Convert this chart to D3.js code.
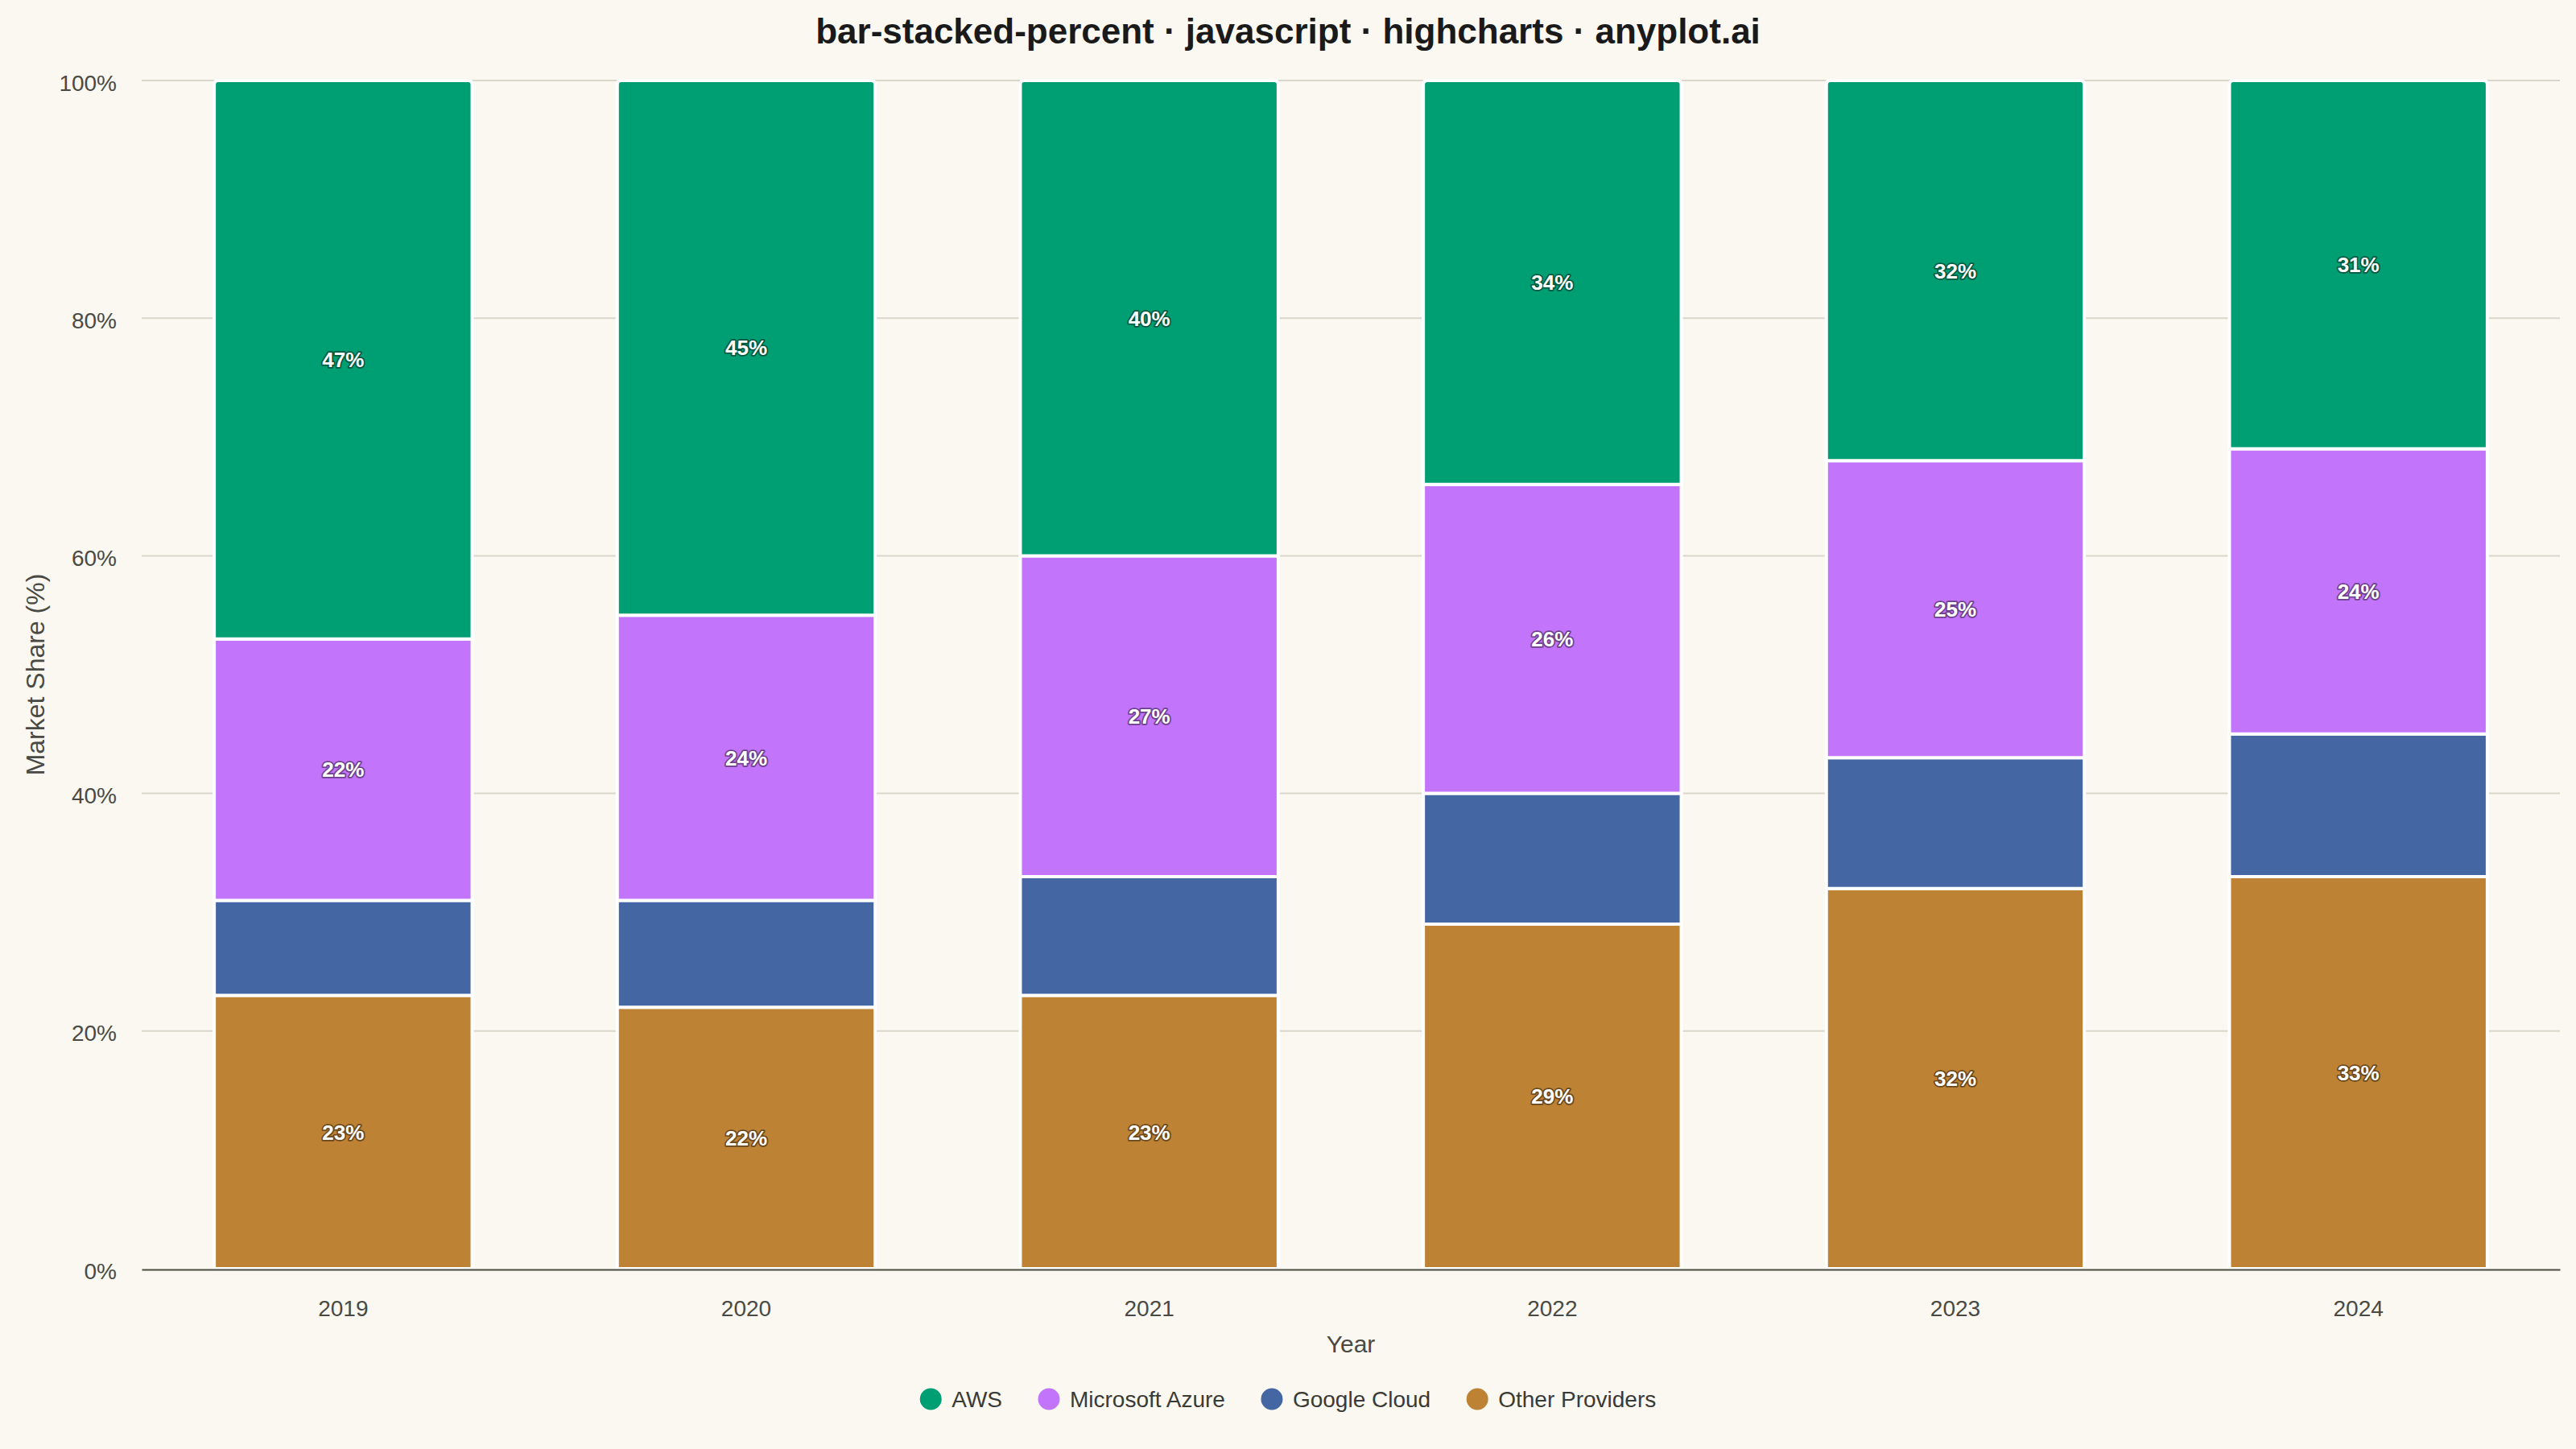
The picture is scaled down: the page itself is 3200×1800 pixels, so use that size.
<!DOCTYPE html>
<html>
<head>
<meta charset="utf-8">
<title>bar-stacked-percent</title>
<script src="https://d3js.org/d3.v7.min.js"></script>
<style>
  html, body { margin: 0; padding: 0; background: #FAF8F1; }
  svg { display: block; font-family: "Liberation Sans", Arial, sans-serif; }
</style>
</head>
<body>
<div id="container"></div>
<script>
// ---------------- data ----------------
var years = ["2019", "2020", "2021", "2022", "2023", "2024"];
var aws = [47, 45, 40, 34, 32, 31];
var azure = [22, 24, 27, 26, 25, 24];
var google = [8, 9, 10, 11, 11, 12];
var other = [23, 22, 23, 29, 32, 33];
var yTicks = [0, 20, 40, 60, 80, 100];

var seriesNames = { aws: "AWS", azure: "Microsoft Azure", google: "Google Cloud", other: "Other Providers" };
var legendOrder = ["aws", "azure", "google", "other"];
var stackOrder = ["other", "google", "azure", "aws"];   // bottom -> top

var color = d3.scaleOrdinal()
  .domain(legendOrder)
  .range(["#009E73", "#C274FA", "#4466A2", "#BD8234"]);

var rows = years.map(function (y, i) {
  return { year: y, aws: aws[i], azure: azure[i], google: google[i], other: other[i] };
});

// ---------------- layout ----------------
var W = 3200, H = 1800;
var margin = { top: 100, right: 20, bottom: 224, left: 176 };
var width = W - margin.left - margin.right,
    height = H - margin.top - margin.bottom;
var textColor = "#4A4A44";

var svg = d3.select("#container").append("svg")
  .attr("width", W).attr("height", H);

svg.append("rect").attr("width", W).attr("height", H).attr("fill", "#FAF8F1");

var g = svg.append("g")
  .attr("transform", "translate(" + margin.left + "," + margin.top + ")");

var x = d3.scaleBand().domain(years).range([0, width])
  .paddingInner(0.36).paddingOuter(0.18);
var y = d3.scaleLinear().domain([0, 100]).range([height, 0]);

// gridlines
g.append("g").selectAll("line")
  .data(yTicks.filter(function (d) { return d > 0; }))
  .enter().append("line")
  .attr("x1", 0).attr("x2", width)
  .attr("y1", function (d) { return y(d); })
  .attr("y2", function (d) { return y(d); })
  .attr("stroke", "#DAD6CC").attr("stroke-width", 2);

// y axis labels
var yAxis = d3.axisLeft(y).tickValues(yTicks)
  .tickFormat(function (d) { return d + "%"; })
  .tickSize(0).tickPadding(31);
g.append("g").attr("class", "axis axis--y").call(yAxis)
  .call(function (a) { a.select(".domain").remove(); })
  .selectAll("text")
  .attr("fill", textColor).attr("font-size", 28)
  .attr("dy", "0.43em")
  .style("font-family", "Liberation Sans, Arial, sans-serif");

// ---------------- bars ----------------
var stack = d3.stack().keys(stackOrder).offset(d3.stackOffsetExpand);
var layers = stack(rows);

function topRounded(x0, y0, w, h, r) {
  return "M" + x0 + "," + (y0 + h) +
    "V" + (y0 + r) +
    "Q" + x0 + "," + y0 + " " + (x0 + r) + "," + y0 +
    "H" + (x0 + w - r) +
    "Q" + (x0 + w) + "," + y0 + " " + (x0 + w) + "," + (y0 + r) +
    "V" + (y0 + h) + "Z";
}

var layer = g.selectAll(".layer")
  .data(layers)
  .enter().append("g")
  .attr("class", "layer")
  .attr("fill", function (d) { return color(d.key); });

layer.each(function (L) {
  var isTop = L.key === stackOrder[stackOrder.length - 1];
  d3.select(this).selectAll("path")
    .data(L)
    .enter().append("path")
    .attr("d", function (d) {
      var x0 = x(d.data.year), w = x.bandwidth();
      var y0 = y(d[1] * 100), h = y(d[0] * 100) - y(d[1] * 100);
      return topRounded(x0, y0, w, h, isTop ? 5 : 0);
    })
    .attr("stroke", "#FFFFFF").attr("stroke-width", 4);
});

// data labels
layers.forEach(function (L) {
  var c = color(L.key);
  g.append("g").selectAll("text")
    .data(L.filter(function (d) { return d.data[L.key] >= 15; }))
    .enter().append("text")
    .attr("x", function (d) { return x(d.data.year) + x.bandwidth() / 2; })
    .attr("y", function (d) { return (y(d[0] * 100) + y(d[1] * 100)) / 2; })
    .attr("dy", "0.36em")
    .attr("text-anchor", "middle")
    .attr("font-size", 26).attr("font-weight", "bold")
    .attr("fill", "#FFFFFF")
    .attr("stroke", d3.color(c).darker(1.6))
    .attr("stroke-width", 3.5)
    .attr("stroke-linejoin", "round")
    .attr("paint-order", "stroke")
    .text(function (d) { return d.data[L.key] + "%"; });
});

// x axis
var xAxis = d3.axisBottom(x).tickSize(0).tickPadding(38);
var xg = g.append("g").attr("class", "axis axis--x")
  .attr("transform", "translate(0," + (height + 1) + ")")
  .call(xAxis);
xg.select(".domain").attr("stroke", "#4A4A40").attr("stroke-width", 2);
xg.selectAll("text")
  .attr("fill", textColor).attr("font-size", 28)
  .style("font-family", "Liberation Sans, Arial, sans-serif");

// ---------------- titles ----------------
svg.append("text")
  .attr("x", W / 2).attr("y", 54)
  .attr("text-anchor", "middle")
  .attr("font-size", 44).attr("font-weight", "bold")
  .attr("fill", "#1A1A1A")
  .text("bar-stacked-percent · javascript · highcharts · anyplot.ai");

svg.append("text")
  .attr("x", margin.left + width / 2).attr("y", 1680)
  .attr("text-anchor", "middle")
  .attr("font-size", 30).attr("fill", textColor)
  .text("Year");

svg.append("text")
  .attr("transform", "translate(55," + (margin.top + height / 2) + ") rotate(-90)")
  .attr("text-anchor", "middle")
  .attr("font-size", 32).attr("fill", textColor)
  .text("Market Share (%)");

// ---------------- legend ----------------
var legend = svg.append("g").attr("class", "legend");
var item = legend.selectAll(".item")
  .data(legendOrder)
  .enter().append("g").attr("class", "item");

item.append("circle")
  .attr("r", 13.5).attr("cx", 0).attr("cy", 0)
  .attr("fill", function (d) { return color(d); });

item.append("text")
  .attr("x", 26).attr("dy", "0.36em")
  .attr("font-size", 28).attr("fill", "#3A3A36")
  .text(function (d) { return seriesNames[d]; });

var offset = 0, positions = [];
item.each(function () {
  positions.push(offset);
  var tw = d3.select(this).select("text").node().getComputedTextLength();
  offset += 26 + tw + 58;
});
var totalW = offset - 58 + 13.5;
var startX = W / 2 - totalW / 2 + 13.5;
item.attr("transform", function (d, i) {
  return "translate(" + (startX + positions[i]) + ",1738)";
});
</script>
</body>
</html>
